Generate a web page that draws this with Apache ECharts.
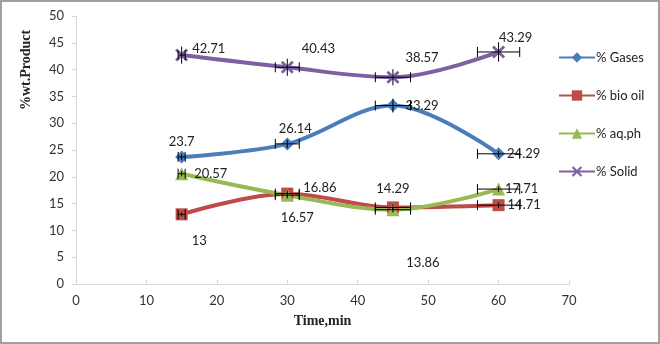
<!DOCTYPE html>
<html><head><meta charset="utf-8">
<script src="https://cdn.jsdelivr.net/npm/echarts@6/dist/echarts.min.js"></script>
<style>
html,body{margin:0;padding:0;background:#fff;}
#wrap{position:absolute;left:0;top:0;width:660px;height:344px;box-sizing:border-box;border:2px solid #a0a0a0;}
#c{position:absolute;left:0;top:0;width:660px;height:344px;}
</style></head>
<body><div id="c"></div><div id="wrap"></div>
<script>
const times = [15, 30, 45, 60];
const seriesNames = ['% Gases', '% bio oil', '% aq.ph', '% Solid'];
const gases = [23.7, 26.14, 33.29, 24.29];
const bioOil = [13, 16.86, 14.29, 14.71];
const aqPh = [20.57, 16.57, 13.86, 17.71];
const solid = [42.71, 40.43, 38.57, 43.29];
const xErr = [0.5, 1.7, 2.5, 3];
const yErrGases = [0.6, 0.8, 1.3, 0.6];
const yErrBio = [0.4, 0.6, 0.6, 0.5];
const yErrAq = [0.5, 0.6, 0.5, 0.5];
const yErrSolid = [1.6, 1.6, 1.5, 1.8];
const xTicks = [0, 10, 20, 30, 40, 50, 60, 70];

const colors = ['#4a7ebb', '#be4b48', '#98b954', '#7d60a0'];
const xSym = 'path://M0,1.5L1.5,0L5,3.5L8.5,0L10,1.5L6.5,5L10,8.5L8.5,10L5,6.5L1.5,10L0,8.5L3.5,5Z';
const symbols = ['diamond', 'rect', 'triangle', xSym];
const sizes = [13, 12, 13, 13];

// label placements [position, offset]
const labelCfg = [
  [['top',[0,2]], ['top',[8,2]], ['right',[2,0]], ['right',[-2,0]]],
  [['right',[0,26]], ['right',[6,-6]], ['top',[0,-2]], ['right',[-1,0]]],
  [['right',[2,0]], ['bottom',[10,6]], ['bottom',[30,36]], ['right',[-4,0]]],
  [['right',[0,-6]], ['right',[4,-18]], ['right',[2,-19]], ['right',[-10,-14]]]
];

const vals = [gases, bioOil, aqPh, solid];
const yErrs = [yErrGases, yErrBio, yErrAq, yErrSolid];

const series = [];
vals.forEach((v, si) => {
  series.push({
    type: 'line', name: seriesNames[si], smooth: 0.35,
    symbol: symbols[si], symbolSize: sizes[si],
    lineStyle: { width: 4, color: colors[si] },
    itemStyle: { color: colors[si] },
    z: 3,
    data: v.map((y, i) => ({
      value: [times[i], y],
      label: { show: true, position: labelCfg[si][i][0], offset: labelCfg[si][i][1], distance: 4,
        formatter: String(y), color: '#222', fontSize: 13, fontFamily: 'Lato, "Open Sans", sans-serif' }
    }))
  });
  series.push({
    type: 'custom', name: seriesNames[si] + ' err', silent: true, z: 5,
    renderItem: function (params, api) {
      const x = api.value(0), y = api.value(1), ex = api.value(2), ey = api.value(3);
      const c = api.coord([x, y]);
      const l = api.coord([x - ex, y]), r = api.coord([x + ex, y]);
      const t = api.coord([x, y + ey]), b = api.coord([x, y - ey]);
      const cap = 5;
      const st = { stroke: '#000', lineWidth: 1 };
      return { type: 'group', children: [
        { type: 'line', shape: { x1: l[0], y1: c[1], x2: r[0], y2: c[1] }, style: st },
        { type: 'line', shape: { x1: l[0], y1: c[1]-cap, x2: l[0], y2: c[1]+cap }, style: st },
        { type: 'line', shape: { x1: r[0], y1: c[1]-cap, x2: r[0], y2: c[1]+cap }, style: st },
        { type: 'line', shape: { x1: c[0], y1: t[1], x2: c[0], y2: b[1] }, style: st }
      ]};
    },
    data: v.map((y, i) => [times[i], y, xErr[i], yErrs[si][i]])
  });
});

const chart = echarts.init(document.getElementById('c'));
chart.setOption({
  animation: false,
  color: colors,
  grid: { left: 76, right: 91, top: 16, bottom: 60 },
  legend: {
    data: seriesNames, orient: 'vertical', left: 553, top: 46, itemGap: 25,
    itemWidth: 36, itemHeight: 13,
    textStyle: { fontSize: 13, color: '#222', fontFamily: 'Lato, "Open Sans", sans-serif', padding: [0,0,0,-4] }
  },
  xAxis: {
    type: 'value', min: 0, max: 70, interval: 10,
    name: 'Time,min', nameLocation: 'middle', nameGap: 30,
    nameTextStyle: { fontFamily: '"Liberation Serif", serif', fontWeight: 'bold', fontSize: 14, color: '#222' },
    axisLine: { lineStyle: { color: '#d9d9d9' } },
    axisTick: { show: true, inside: true, length: 4, lineStyle: { color: '#d9d9d9' } },
    axisLabel: { fontSize: 13, color: '#333', margin: 10, fontFamily: 'Lato, "Open Sans", sans-serif' },
    splitLine: { show: false }
  },
  yAxis: {
    type: 'value', min: 0, max: 50, interval: 5,
    axisLine: { show: true, lineStyle: { color: '#d9d9d9' } },
    axisTick: { show: true, length: 4, lineStyle: { color: '#d9d9d9' } },
    axisLabel: { fontSize: 13, color: '#333', margin: 12, fontFamily: 'Lato, "Open Sans", sans-serif' },
    splitLine: { show: false }
  },
  graphic: [{
    type: 'text', x: 26, y: 70, rotation: Math.PI / 2,
    style: { text: '%wt.Product', font: 'bold 14px "Liberation Serif", serif', fill: '#222',
      textAlign: 'center', textVerticalAlign: 'middle' }
  }],
  series: series
});
</script></body></html>
